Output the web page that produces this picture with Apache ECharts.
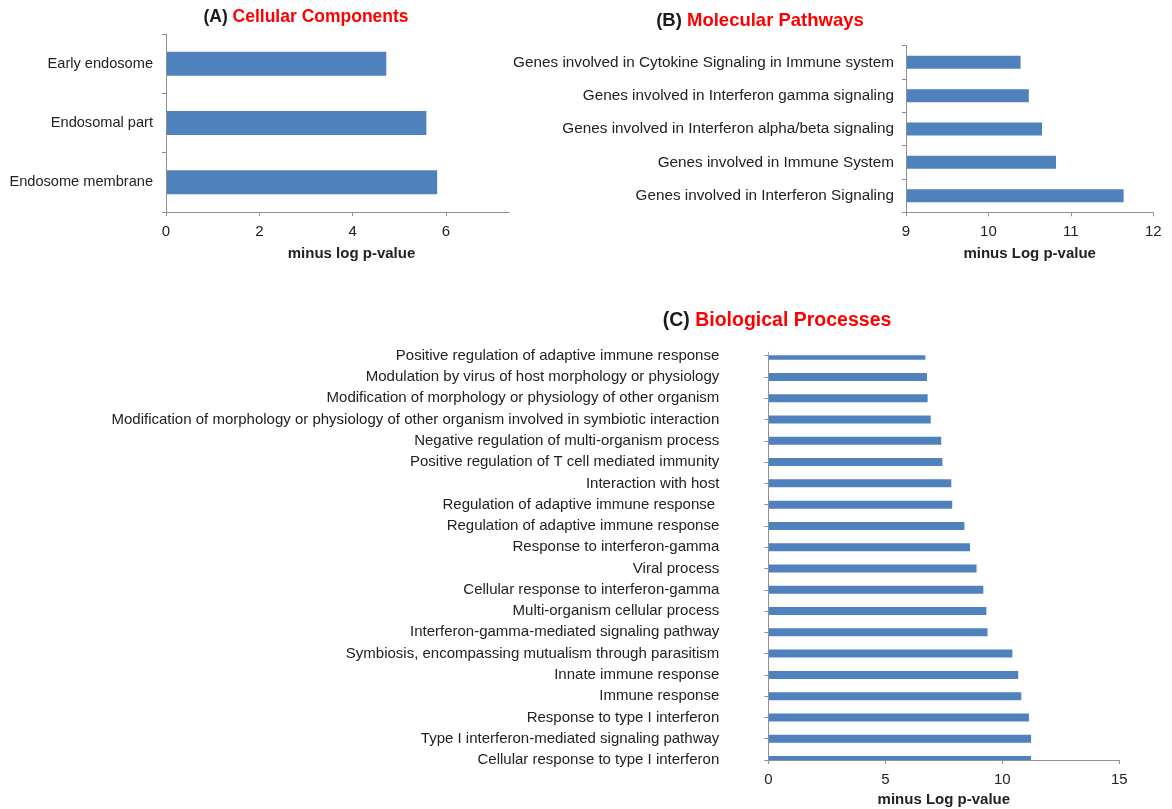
<!DOCTYPE html>
<html>
<head>
<meta charset="utf-8">
<title>GO / pathway enrichment</title>
<script src="https://cdn.jsdelivr.net/npm/echarts@6/dist/echarts.min.js"></script>
<style>
  html, body { margin: 0; padding: 0; background: #fff; }
  #chart { width: 1172px; height: 809px; }
</style>
</head>
<body>
<div id="chart"></div>
<script>
// (A) Cellular components, listed top to bottom
const ccTerms = ['Early endosome', 'Endosomal part', 'Endosome membrane'];
const ccValues = [4.72, 5.58, 5.81];
const ccTicks = [0, 2, 4, 6];

// (B) Molecular pathways, listed top to bottom
const mpTerms = [
  'Genes involved in Cytokine Signaling in Immune system',
  'Genes involved in Interferon gamma signaling',
  'Genes involved in Interferon alpha/beta signaling',
  'Genes involved in Immune System',
  'Genes involved in Interferon Signaling'
];
const mpValues = [10.39, 10.49, 10.65, 10.82, 11.64];

// (C) Biological processes, listed top to bottom
const bpTerms = [
  'Positive regulation of adaptive immune response',
  'Modulation by virus of host morphology or physiology',
  'Modification of morphology or physiology of other organism',
  'Modification of morphology or physiology of other organism involved in symbiotic interaction',
  'Negative regulation of multi-organism process',
  'Positive regulation of T cell mediated immunity',
  'Interaction with host',
  'Regulation of adaptive immune response ',
  'Regulation of adaptive immune response',
  'Response to interferon-gamma',
  'Viral process',
  'Cellular response to interferon-gamma',
  'Multi-organism cellular process',
  'Interferon-gamma-mediated signaling pathway',
  'Symbiosis, encompassing mutualism through parasitism',
  'Innate immune response',
  'Immune response',
  'Response to type I interferon',
  'Type I interferon-mediated signaling pathway',
  'Cellular response to type I interferon'
];
const bpValues = [6.71, 6.78, 6.81, 6.94, 7.39, 7.44, 7.82, 7.86, 8.38, 8.62,
                  8.90, 9.19, 9.32, 9.37, 10.43, 10.68, 10.81, 11.14, 11.23, 11.23];

const FONT = "'Liberation Sans', Arial, Helvetica, sans-serif";
const BAR = '#4F81BD';
const AXIS = '#8f8f8f';
const TEXT = '#222222';

// plot rectangles of the three panels
const gridA = { left: 166, top: 34, width: 343, height: 178 };
const gridB = { left: 906, top: 45.7, width: 247.3, height: 166.6 };
const gridC = { left: 768.3, top: 355.7, width: 351, height: 404.3 };

const chart = echarts.init(document.getElementById('chart'), null, { renderer: 'canvas' });

const axisLine = { show: true, lineStyle: { color: AXIS, width: 1 } };
const tick = () => ({ show: true, length: 4, lineStyle: { color: AXIS, width: 1 } });
const tickLabel = (size) => ({ color: TEXT, fontFamily: FONT, fontSize: size || 15 });
const axisName = (pad) => ({ color: TEXT, fontFamily: FONT, fontSize: 15, fontWeight: 'bold', padding: pad });

function heading(x, y, tag, name, size) {
  return {
    type: 'text', x: x, y: y, z: 10,
    style: {
      text: '{k|' + tag + ' }{r|' + name + '}',
      align: 'center', verticalAlign: 'middle',
      rich: {
        k: { fontFamily: FONT, fontSize: size, fontWeight: 'bold', fill: '#1a1a1a' },
        r: { fontFamily: FONT, fontSize: size, fontWeight: 'bold', fill: '#ff0000' }
      }
    }
  };
}

// Panel C puts its end categories on the axis ends, so the outer halves of the
// first and last bars fall outside the plot; white strips trim them off.
function trim(y, h) {
  return {
    type: 'rect', z: 4, silent: true,
    shape: { x: gridC.left + 0.6, y: y, width: gridC.width, height: h },
    style: { fill: '#ffffff' }
  };
}

chart.setOption({
  animation: false,
  backgroundColor: '#ffffff',
  graphic: [
    heading(306, 17, '(A)', 'Cellular Components', 17.5),
    heading(760, 21, '(B)', 'Molecular Pathways', 18.5),
    heading(777, 321, '(C)', 'Biological Processes', 19.5),
    trim(gridC.top - 8, 7.6),
    trim(gridC.top + gridC.height + 0.6, 8)
  ],
  grid: [
    Object.assign({ outerBoundsMode: 'none' }, gridA),
    Object.assign({ outerBoundsMode: 'none' }, gridB),
    Object.assign({ outerBoundsMode: 'none' }, gridC)
  ],
  xAxis: [
    {
      gridIndex: 0, type: 'value', min: 0, max: 7.35, interval: 2, z: 6,
      splitLine: { show: false }, axisLine: axisLine,
      axisTick: Object.assign(tick(), { customValues: ccTicks }),
      axisLabel: Object.assign({ margin: 12, customValues: ccTicks }, tickLabel()),
      name: 'minus log p-value', nameLocation: 'middle', nameGap: 34,
      nameTextStyle: axisName([0, 0, 0, 28])
    },
    {
      gridIndex: 1, type: 'value', min: 9, max: 12, interval: 1, z: 6,
      splitLine: { show: false }, axisLine: axisLine, axisTick: tick(),
      axisLabel: Object.assign({ margin: 12 }, tickLabel()),
      name: 'minus Log p-value', nameLocation: 'middle', nameGap: 34,
      nameTextStyle: axisName(0)
    },
    {
      gridIndex: 2, type: 'value', min: 0, max: 15, interval: 5, z: 6,
      splitLine: { show: false }, axisLine: axisLine, axisTick: tick(),
      axisLabel: Object.assign({ margin: 12 }, tickLabel()),
      name: 'minus Log p-value', nameLocation: 'middle', nameGap: 32,
      nameTextStyle: axisName(0)
    }
  ],
  yAxis: [
    {
      gridIndex: 0, type: 'category', data: ccTerms, inverse: true, z: 6,
      axisLine: axisLine, axisTick: tick(),
      axisLabel: Object.assign({ margin: 13, interval: 0, padding: [4, 0, 0, 0] }, tickLabel(14.6))
    },
    {
      gridIndex: 1, type: 'category', data: mpTerms, inverse: true, z: 6,
      axisLine: axisLine, axisTick: tick(),
      axisLabel: Object.assign({ margin: 12, interval: 0, padding: [4, 0, 0, 0] }, tickLabel(15.3))
    },
    {
      gridIndex: 2, type: 'category', data: bpTerms, inverse: true, boundaryGap: false, z: 6,
      axisLine: axisLine, axisTick: Object.assign(tick(), { interval: 0 }),
      axisLabel: Object.assign({ margin: 49, interval: 0, padding: [4, 0, 0, 0] }, tickLabel())
    }
  ],
  series: [
    { type: 'bar', xAxisIndex: 0, yAxisIndex: 0, data: ccValues, barWidth: 24,
      itemStyle: { color: BAR } },
    { type: 'bar', xAxisIndex: 1, yAxisIndex: 1, data: mpValues, barWidth: 13,
      itemStyle: { color: BAR } },
    { type: 'bar', xAxisIndex: 2, yAxisIndex: 2, data: bpValues, barWidth: 8,
      itemStyle: { color: BAR } }
  ]
});
</script>
</body>
</html>
